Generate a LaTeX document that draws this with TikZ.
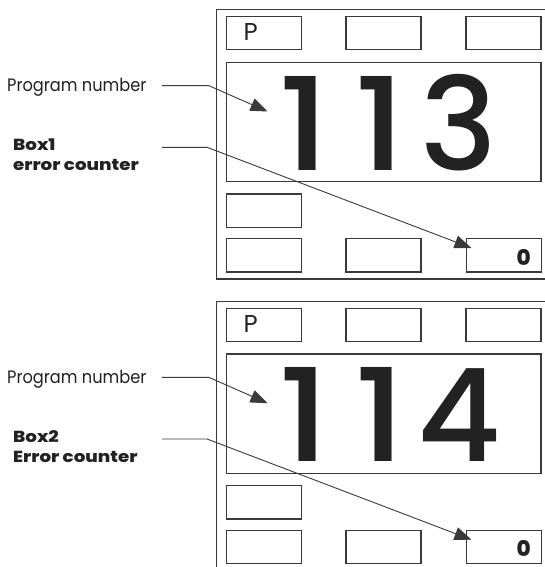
\documentclass[tikz,border=0pt]{standalone}
\usepackage{fontspec}
\setmainfont{Poppins}
\newfontfamily\digitfont{Poppins Medium}
\newfontfamily\heavyfont{Poppins ExtraBold}
\usetikzlibrary{arrows.meta}
\definecolor{ink}{HTML}{3A3A3A}
\definecolor{txt}{HTML}{222222}
\begin{document}
\begin{tikzpicture}[x=1pt,y=-1pt,
  panelframe/.style={draw=ink,line width=1.4pt,inner sep=0,anchor=north west,minimum width=345pt,minimum height=269.3pt},
  slot/.style={draw=ink,line width=1.2pt,minimum width=75pt,minimum height=33.3pt,inner sep=0,anchor=north west},
  bigslot/.style={draw=ink,line width=1.2pt,minimum width=314.6pt,minimum height=119.3pt,inner sep=0,anchor=north west},
  lbl/.style={inner sep=0,anchor=base west,text=txt},
  digit/.style={inner sep=0,anchor=base,text=txt,font=\digitfont\fontsize{129}{129}\selectfont},
  conn/.style={draw=ink,line width=0.9pt},
  pointer/.style={-{Triangle[length=17pt,width=13pt]}}]
\useasboundingbox (0,0) rectangle (545,567);
\clip (0,0) rectangle (545,567);
\fill[white] (0,0) rectangle (545,567);
\foreach \i/\dy/\dc/\bx/\err in {1/0/3/Box1/error counter,2/291.7/4/Box2/Error counter}{
\begin{scope}[shift={(0,\dy)}]
  \node[panelframe] (panel\i) at (215.5,9) {};
  \node[slot] (pbox\i) at (225.7,16) {};
  \node[slot] (tb\i) at (345.3,16) {};
  \node[slot] (tc\i) at (465.3,16) {};
  \node[bigslot] (big\i) at (225.7,61.7) {};
  \node[slot] (ml\i) at (225.7,193.3) {};
  \node[slot] (ba\i) at (225.7,238) {};
  \node[slot] (bb\i) at (345.3,238) {};
  \node[slot] (bc\i) at (465.7,238) {};
  \node[digit] (da\i) at (304,170) {\scalebox{1.15}[1]{1}};
  \node[digit] (db\i) at (380,170) {\scalebox{1.15}[1]{1}};
  \node[digit] (dc\i) at (459,170) {\dc};
  \node[inner sep=0,anchor=base west,text=txt,font=\fontsize{24.4}{24.4}\selectfont] (plbl\i) at (243.3,41) {P};
  \node[inner sep=0,anchor=base east,text=txt,font=\heavyfont\fontsize{21.5}{21.5}\selectfont] (zero\i) at (531,265) {0};
  \node[lbl,font=\fontsize{18}{18}\selectfont] (prog\i) at (7,91.7) {\scalebox{0.9}[1]{Program number}};
  \node[lbl,font=\heavyfont\fontsize{16}{16}\selectfont] (boxl\i) at (13,150.7) {\scalebox{1.14}[1]{\bx}};
  \node[lbl,font=\heavyfont\fontsize{16}{16}\selectfont] (errl\i) at (13,170.7) {\scalebox{1.14}[1]{\err}};
  \coordinate (pa\i) at (162,85.7);
  \coordinate (pk\i) at (209,85.7);
  \coordinate (pt\i) at (267.5,111.5);
  \coordinate (ea\i) at (162,147.3);
  \coordinate (ek\i) at (207,147.3);
  \coordinate (et\i) at (471.5,248);
  \draw[conn,pointer] (pa\i) -- (pk\i) -- (pt\i);
  \draw[conn,pointer] (ea\i) -- (ek\i) -- (et\i);
\end{scope}
}
\end{tikzpicture}
\end{document}
